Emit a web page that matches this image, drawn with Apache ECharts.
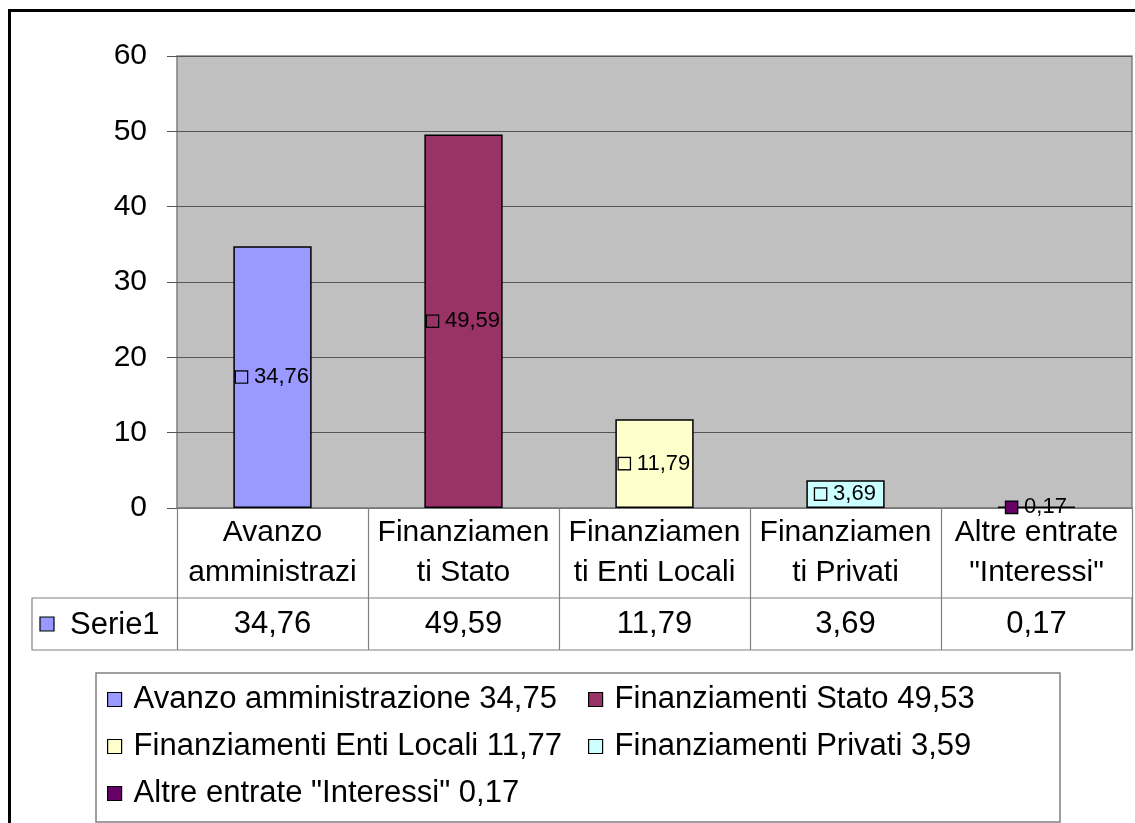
<!DOCTYPE html>
<html>
<head>
<meta charset="utf-8">
<script src="https://cdn.jsdelivr.net/npm/echarts@6/dist/echarts.min.js"></script>
<style>
  html, body { margin: 0; padding: 0; background: #fff; }
  #chart { width: 1135px; height: 823px; }
</style>
</head>
<body>
<div id="chart"></div>
<script>
// categories as they show in the data table (cut the same way)
const categories = [
  'Avanzo\namministrazi',
  'Finanziamen\nti Stato',
  'Finanziamen\nti Enti Locali',
  'Finanziamen\nti Privati',
  'Altre entrate\n"Interessi"'
]
const values = [34.76, 49.59, 11.79, 3.69, 0.17]
// legend entries carry their own numbers
const legendNames = [
  'Avanzo amministrazione 34,75',
  'Finanziamenti Stato 49,53',
  'Finanziamenti Enti Locali 11,77',
  'Finanziamenti Privati 3,59',
  'Altre entrate "Interessi" 0,17'
]
const colors = ['#9999FF', '#993366', '#FFFFCC', '#CCFFFF', '#660066']
const yTicks = { min: 0, max: 60, interval: 10 }
const seriesName = 'Serie1'

const FONT = "'Liberation Sans', Arial, sans-serif"
const fmt = v => v.toFixed(2).replace('.', ',')
const lineGray = '#808080'

const series = values.map((v, i) => ({
  name: legendNames[i],
  type: 'bar',
  stack: 'tot',
  barWidth: '41%',
  data: values.map((_, j) => (j === i ? v : '-')),
  itemStyle: { color: colors[i], borderColor: '#000', borderWidth: 1.5 },
  label: {
    show: true,
    position: 'inside',
    formatter: p => '{sq|}{v|' + fmt(p.value) + '}',
    rich: {
      sq: { width: 11, height: 11, backgroundColor: colors[i], borderColor: '#000', borderWidth: 1.3 },
      v: { fontSize: 22, fontFamily: FONT, color: '#000', padding: [0, 0, 0, 7] }
    }
  },
  emphasis: { disabled: true }
}))

const legendBase = {
  orient: 'vertical', top: 684, padding: 0,
  itemWidth: 14, itemHeight: 14, itemGap: 16, icon: 'rect',
  selectedMode: false,
  itemStyle: { borderWidth: 1.2 },
  textStyle: { fontSize: 31, lineHeight: 30, color: '#000', fontFamily: FONT, padding: [0, 0, 0, 7] }
}

const chart = echarts.init(document.getElementById('chart'))
chart.setOption({
  animation: false,
  textStyle: { fontFamily: FONT },
  grid: {
    left: 177, right: 3, top: 56, height: 452,
    show: true, backgroundColor: '#C0C0C0', borderColor: lineGray, borderWidth: 1.5
  },
  legend: [
    Object.assign({}, legendBase, { left: 107, data: [legendNames[0], legendNames[2], legendNames[4]] }),
    Object.assign({}, legendBase, { left: 588, data: [legendNames[1], legendNames[3]] })
  ],
  xAxis: [
    {
      type: 'category',
      data: categories,
      position: 'bottom',
      axisLine: { show: true, lineStyle: { color: lineGray, width: 1.5 } },
      axisTick: { show: true, interval: 0, length: 142, lineStyle: { color: lineGray, width: 1.2 } },
      axisLabel: { interval: 0, margin: 5, fontSize: 30, lineHeight: 40, color: '#000', fontFamily: FONT }
    },
    {
      type: 'category',
      data: values.map(fmt),
      position: 'bottom',
      offset: 90,
      axisLine: { show: false },
      axisTick: { show: false },
      axisLabel: { interval: 0, margin: 11, fontSize: 31, lineHeight: 30, color: '#000', fontFamily: FONT }
    }
  ],
  yAxis: {
    type: 'value',
    min: yTicks.min, max: yTicks.max, interval: yTicks.interval,
    axisLine: { show: false },
    axisTick: { show: true, length: 10, lineStyle: { color: '#555' } },
    axisLabel: { margin: 30, fontSize: 30, color: '#000', fontFamily: FONT },
    splitLine: { show: true, lineStyle: { color: '#555', width: 1.2 } }
  },
  series: series,
  graphic: [
    // outer chart frame
    { type: 'rect', shape: { x: 9.5, y: 10.5, width: 1300, height: 1000 },
      style: { fill: 'none', stroke: '#000', lineWidth: 3 }, silent: true },
    // data table value row
    { type: 'rect', shape: { x: 32, y: 598, width: 1100, height: 52 },
      style: { fill: 'none', stroke: lineGray, lineWidth: 1.2 }, silent: true },
    { type: 'rect', shape: { x: 40, y: 617, width: 14, height: 14 },
      style: { fill: colors[0], stroke: '#000', lineWidth: 1.2 }, silent: true },
    { type: 'text', x: 70, y: 625,
      style: { text: seriesName, fontSize: 31, fontFamily: FONT, fill: '#000', verticalAlign: 'middle' }, silent: true },
    // legend box
    { type: 'rect', shape: { x: 96, y: 673, width: 964, height: 149 },
      style: { fill: 'none', stroke: lineGray, lineWidth: 1.5 }, silent: true, z: -1 }
  ]
})
</script>
</body>
</html>
